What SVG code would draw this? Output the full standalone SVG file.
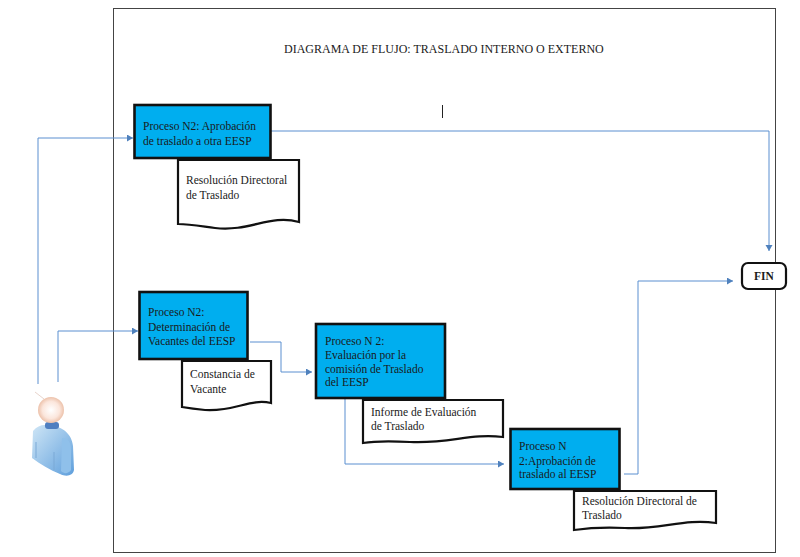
<svg xmlns="http://www.w3.org/2000/svg" width="800" height="557" viewBox="0 0 800 557">
<style>
text{font-family:"Liberation Serif","Times New Roman",serif;font-size:11.5px;fill:#1a1a1a}
.p{fill:#00aeef;stroke:#111;stroke-width:2.6}
.d{fill:#fff;stroke:#111;stroke-width:2.2}
.c{fill:none;stroke:#5b8fd0;stroke-width:1;marker-end:url(#a)}
.n{fill:none;stroke:#5b8fd0;stroke-width:1}
</style>
<defs>
<marker id="a" markerUnits="userSpaceOnUse" markerWidth="8" markerHeight="8" refX="6" refY="3.5" orient="auto"><path d="M0 0L6 3.5L0 7z" fill="#4f81bd"/></marker>
<radialGradient id="h" cx=".5" cy=".5" r=".55"><stop offset="0" stop-color="#fff"/><stop offset=".6" stop-color="#fbe6dc"/><stop offset="1" stop-color="#e8b79c"/></radialGradient>
<linearGradient id="b" x1="0" y1="0" x2="1" y2="1"><stop offset="0" stop-color="#cfe6f6"/><stop offset="1" stop-color="#5f9fdc"/></linearGradient>
</defs>
<rect width="800" height="557" fill="#fff"/>
<rect x="113.500" y="8.500" width="662" height="544" fill="none" stroke="#444" stroke-width="1"/>
<text x="284" y="53" style="font-size:12px">DIAGRAMA DE FLUJO: TRASLADO INTERNO O EXTERNO</text>
<path d="M442.500 105V118" stroke="#222" stroke-width="1"/>
<g id="connectors">
<path class="c" d="M38 384V138H133"/>
<path class="c" d="M58 382V331H138"/>
<path class="c" d="M269 131H769V251"/>
<path class="c" d="M250 342H281V372H312"/>
<path class="c" d="M345 399V464H504"/>
<path class="c" d="M624 474H638V281H733"/>
</g>
<g id="n1"><rect class="p" x="134.500" y="105" width="136" height="53"/><text x="143" y="130">Proceso N2: Aprobación</text><text x="143" y="145">de traslado a otra EESP</text></g>
<g id="d1"><path class="d" d="M178 160H299V222C270 214 250 232 215 228C200 226 190 224 178 224Z"/><text x="186" y="184">Resolución Directoral</text><text x="186" y="199">de Traslado</text></g>
<g id="n2"><rect class="p" x="139.500" y="292" width="108" height="67"/><text x="148" y="316">Proceso N2:</text><text x="148" y="331">Determinación de</text><text x="148" y="345">Vacantes del EESP</text></g>
<g id="d2"><path class="d" d="M182 361H271V403C250 398 235 412 205 410C195 409 188 408 182 407Z"/><text x="190" y="378">Constancia de</text><text x="190" y="393">Vacante</text></g>
<g id="n3"><rect class="p" x="316" y="324" width="129" height="74"/><text x="325" y="345">Proceso N 2:</text><text x="325" y="359">Evaluación por la</text><text x="325" y="373">comisión de Traslado</text><text x="325" y="386">del EESP</text></g>
<g id="d3"><path class="d" d="M363 400H503V437C470 433 450 444 410 442C390 441 375 441 363 443Z"/><text x="371" y="416">Informe de Evaluación</text><text x="371" y="430">de Traslado</text></g>
<g id="n4"><rect class="p" x="510.500" y="429" width="109" height="60"/><text x="519" y="450">Proceso N</text><text x="519" y="465">2:Aprobación de</text><text x="519" y="478">traslado al EESP</text></g>
<g id="d4"><path class="d" d="M574 491H716V523C685 518 660 530 625 528C605 527 588 528 574 530Z"/><text x="582" y="505">Resolución Directoral de</text><text x="582" y="519">Traslado</text></g>
<g id="fin"><rect x="742" y="263" width="44" height="26" rx="6" fill="#fff" stroke="#111" stroke-width="2.2"/><text x="764" y="280" text-anchor="middle" style="font-weight:bold">FIN</text></g>
<g id="person">
<path d="M35 392L44 399" stroke="#e8d4cc" stroke-width="1"/>
<path d="M33 431C38 425 44 424 51 426C62 426 72 434 73 446L74 470C73 476 66 477 60 474C50 470 40 464 32 458Z" fill="url(#b)"/>
<path d="M62 438C68 438 71 442 71 450L71 470C68 474 64 474 61 471Z" fill="#8fc0ea"/>
<path d="M36 442V458M54 452V470" stroke="#7aa9d6" stroke-width="1"/>
<rect x="45" y="422" width="14" height="7" rx="3" fill="#4f7fc0"/>
<circle cx="51" cy="410" r="13" fill="url(#h)"/>
</g>
</svg>
